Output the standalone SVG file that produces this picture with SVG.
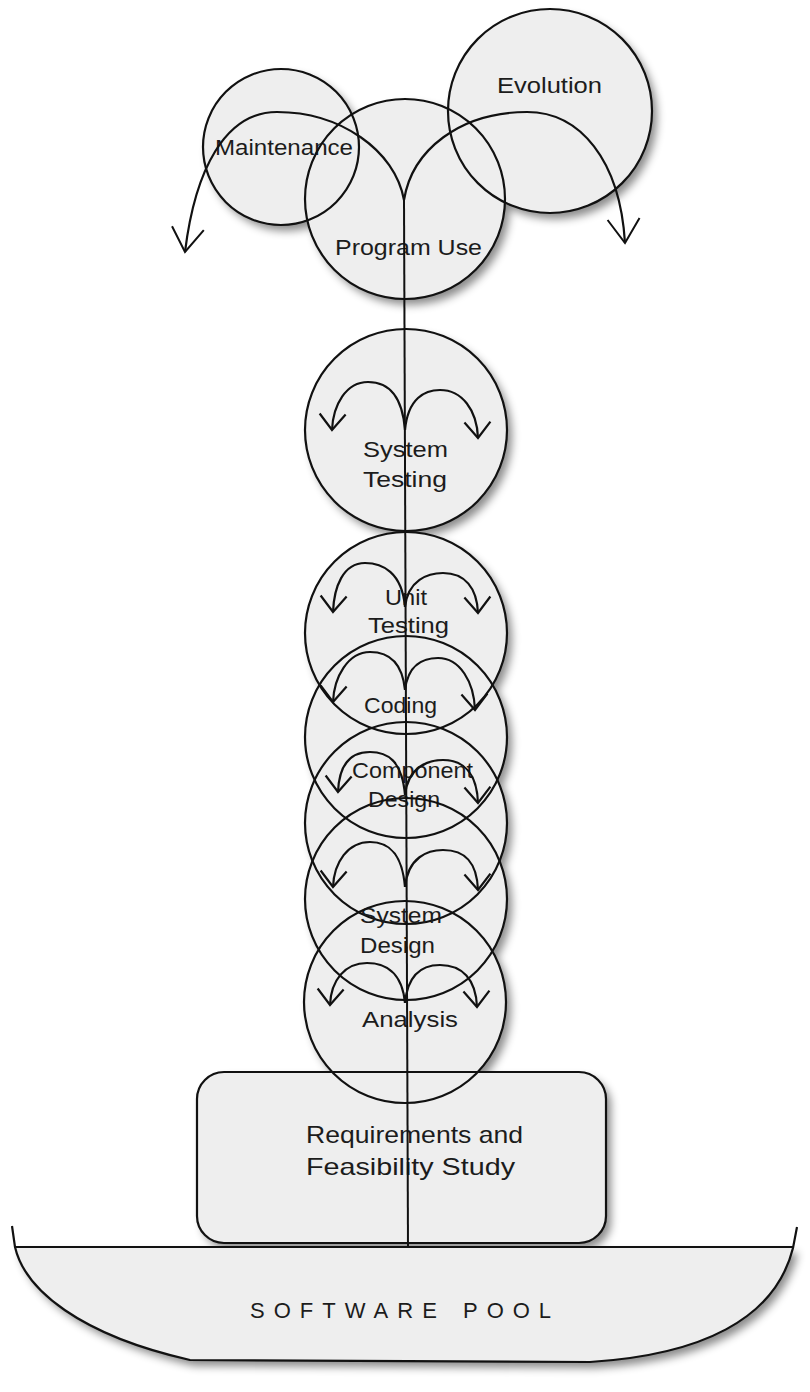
<svg xmlns="http://www.w3.org/2000/svg" width="810" height="1392" viewBox="0 0 810 1392">
<defs>
<style>
.fill{fill:#eeeeee;stroke:none}
.ol{fill:none;stroke:#111;stroke-width:2.2}
.ln{fill:none;stroke:#111;stroke-width:2}
.arc{fill:none;stroke:#111;stroke-width:2.2;marker-end:url(#ah)}
.arcL{fill:none;stroke:#111;stroke-width:2.2;marker-end:url(#ahL)}
text{font-family:"Liberation Sans",Arial,sans-serif;font-size:22px;fill:#1c1c1c}
</style>
<filter id="sh" x="-10%" y="-10%" width="125%" height="125%">
<feDropShadow dx="5" dy="6" stdDeviation="4" flood-color="#000" flood-opacity="0.45"/>
</filter>
<marker id="ah" viewBox="-20 -15 24 30" markerWidth="24" markerHeight="30" refX="0" refY="0" orient="auto" markerUnits="userSpaceOnUse">
<path d="M-16,-13 L0,0 L-16,13" fill="none" stroke="#111" stroke-width="2.2"/>
</marker>
<marker id="ahL" viewBox="-28 -20 32 40" markerWidth="32" markerHeight="40" refX="0" refY="0" orient="auto" markerUnits="userSpaceOnUse">
<path d="M-24,-16 L0,0 L-24,16" fill="none" stroke="#111" stroke-width="2"/>
</marker>
</defs>
<rect width="810" height="1392" fill="#fff"/>
<g id="fills" filter="url(#sh)">
<path class="fill" d="M15,1247 C25,1290 80,1335 190,1360 L590,1362 C700,1355 775,1320 793,1247 Z"/>
<rect class="fill" x="197" y="1072" width="409" height="171" rx="27"/>
<circle class="fill" cx="281" cy="147" r="78"/>
<circle class="fill" cx="550" cy="111" r="102"/>
<circle class="fill" cx="405" cy="199" r="100"/>
<circle class="fill" cx="406" cy="430" r="101"/>
<circle class="fill" cx="406" cy="633" r="101"/>
<circle class="fill" cx="406" cy="737" r="101"/>
<circle class="fill" cx="406" cy="823" r="101"/>
<circle class="fill" cx="406" cy="899" r="101"/>
<circle class="fill" cx="405" cy="1002" r="101"/>
</g>
<g id="pool">
<path class="ol" d="M12,1226 L15,1247 C25,1290 80,1335 190,1360 L590,1362 C700,1355 775,1320 793,1248 L797,1227"/>
<path class="ol" d="M15,1247 L793,1247"/>
<text x="250" y="1318" style="letter-spacing:9px;word-spacing:2px">SOFTWARE POOL</text>
</g>
<g id="requirements">
<rect class="ol" x="197" y="1072" width="409" height="171" rx="27"/>
<text x="306" y="1143" font-size="24" style="font-size:24px" textLength="217" lengthAdjust="spacingAndGlyphs">Requirements and</text>
<text x="306" y="1175" style="font-size:24px" textLength="209" lengthAdjust="spacingAndGlyphs">Feasibility Study</text>
</g>
<g id="maintenance">
<circle class="ol" cx="281" cy="147" r="78"/>
<text x="215" y="155" textLength="138" lengthAdjust="spacingAndGlyphs">Maintenance</text>
</g>
<g id="evolution">
<circle class="ol" cx="550" cy="111" r="102"/>
<text x="497" y="93" textLength="105" lengthAdjust="spacingAndGlyphs">Evolution</text>
</g>
<g id="program-use">
<circle class="ol" cx="405" cy="199" r="100"/>
<text x="335" y="255" textLength="147" lengthAdjust="spacingAndGlyphs">Program Use</text>
</g>
<g id="system-testing">
<circle class="ol" cx="406" cy="430" r="101"/>
<text x="363" y="457" textLength="85" lengthAdjust="spacingAndGlyphs">System</text>
<text x="363" y="487" textLength="84" lengthAdjust="spacingAndGlyphs">Testing</text>
</g>
<g id="unit-testing">
<circle class="ol" cx="406" cy="633" r="101"/>
<text x="385" y="605" textLength="42" lengthAdjust="spacingAndGlyphs">Unit</text>
<text x="368" y="633" textLength="81" lengthAdjust="spacingAndGlyphs">Testing</text>
</g>
<g id="coding">
<circle class="ol" cx="406" cy="737" r="101"/>
<text x="364" y="713" textLength="73" lengthAdjust="spacingAndGlyphs">Coding</text>
</g>
<g id="component-design">
<circle class="ol" cx="406" cy="823" r="101"/>
<text x="352" y="778" textLength="121" lengthAdjust="spacingAndGlyphs">Component</text>
<text x="368" y="807" textLength="72" lengthAdjust="spacingAndGlyphs">Design</text>
</g>
<g id="system-design">
<circle class="ol" cx="406" cy="899" r="101"/>
<text x="360" y="923" textLength="82" lengthAdjust="spacingAndGlyphs">System</text>
<text x="360" y="953" textLength="75" lengthAdjust="spacingAndGlyphs">Design</text>
</g>
<g id="analysis">
<circle class="ol" cx="405" cy="1002" r="101"/>
<text x="362" y="1027" textLength="96" lengthAdjust="spacingAndGlyphs">Analysis</text>
</g>
<g id="connectors">
<path class="ln" d="M404,200 L408,1247"/>
<path class="arcL" d="M404,200 C395,150 340,112 277,112 C225,112 195,170 185,252"/>
<path class="arcL" d="M404,200 C412,150 460,112 527,112 C580,112 620,160 625,243"/>
<path class="arc" d="M405,430 C402,392 385,382 368,382 C346,382 333,405 332,430"/>
<path class="arc" d="M405,430 C408,398 425,390 440,390 C462,390 477,410 478,438"/>
<path class="arc" d="M405,607 C402,572 382,563 365,563 C343,563 334,587 333,612"/>
<path class="arc" d="M405,607 C408,580 428,573 443,573 C465,573 477,588 478,613"/>
<path class="arc" d="M405,690 C402,660 387,652 370,652 C348,652 334,677 333,702"/>
<path class="arc" d="M405,690 C408,665 423,658 438,658 C460,658 474,682 475,710"/>
<path class="arc" d="M405,795 C402,760 387,752 370,752 C348,752 339,767 338,792"/>
<path class="arc" d="M405,795 C408,767 428,760 443,760 C465,760 477,775 478,803"/>
<path class="arc" d="M405,887 C402,851 387,842 370,842 C348,842 334,862 333,887"/>
<path class="arc" d="M405,887 C408,857 428,850 443,850 C465,850 477,862 478,890"/>
<path class="arc" d="M405,1003 C402,971 384,963 367,963 C345,963 331,980 330,1005"/>
<path class="arc" d="M405,1003 C408,972 425,965 440,965 C462,965 476,979 477,1007"/>
</g>
</svg>
